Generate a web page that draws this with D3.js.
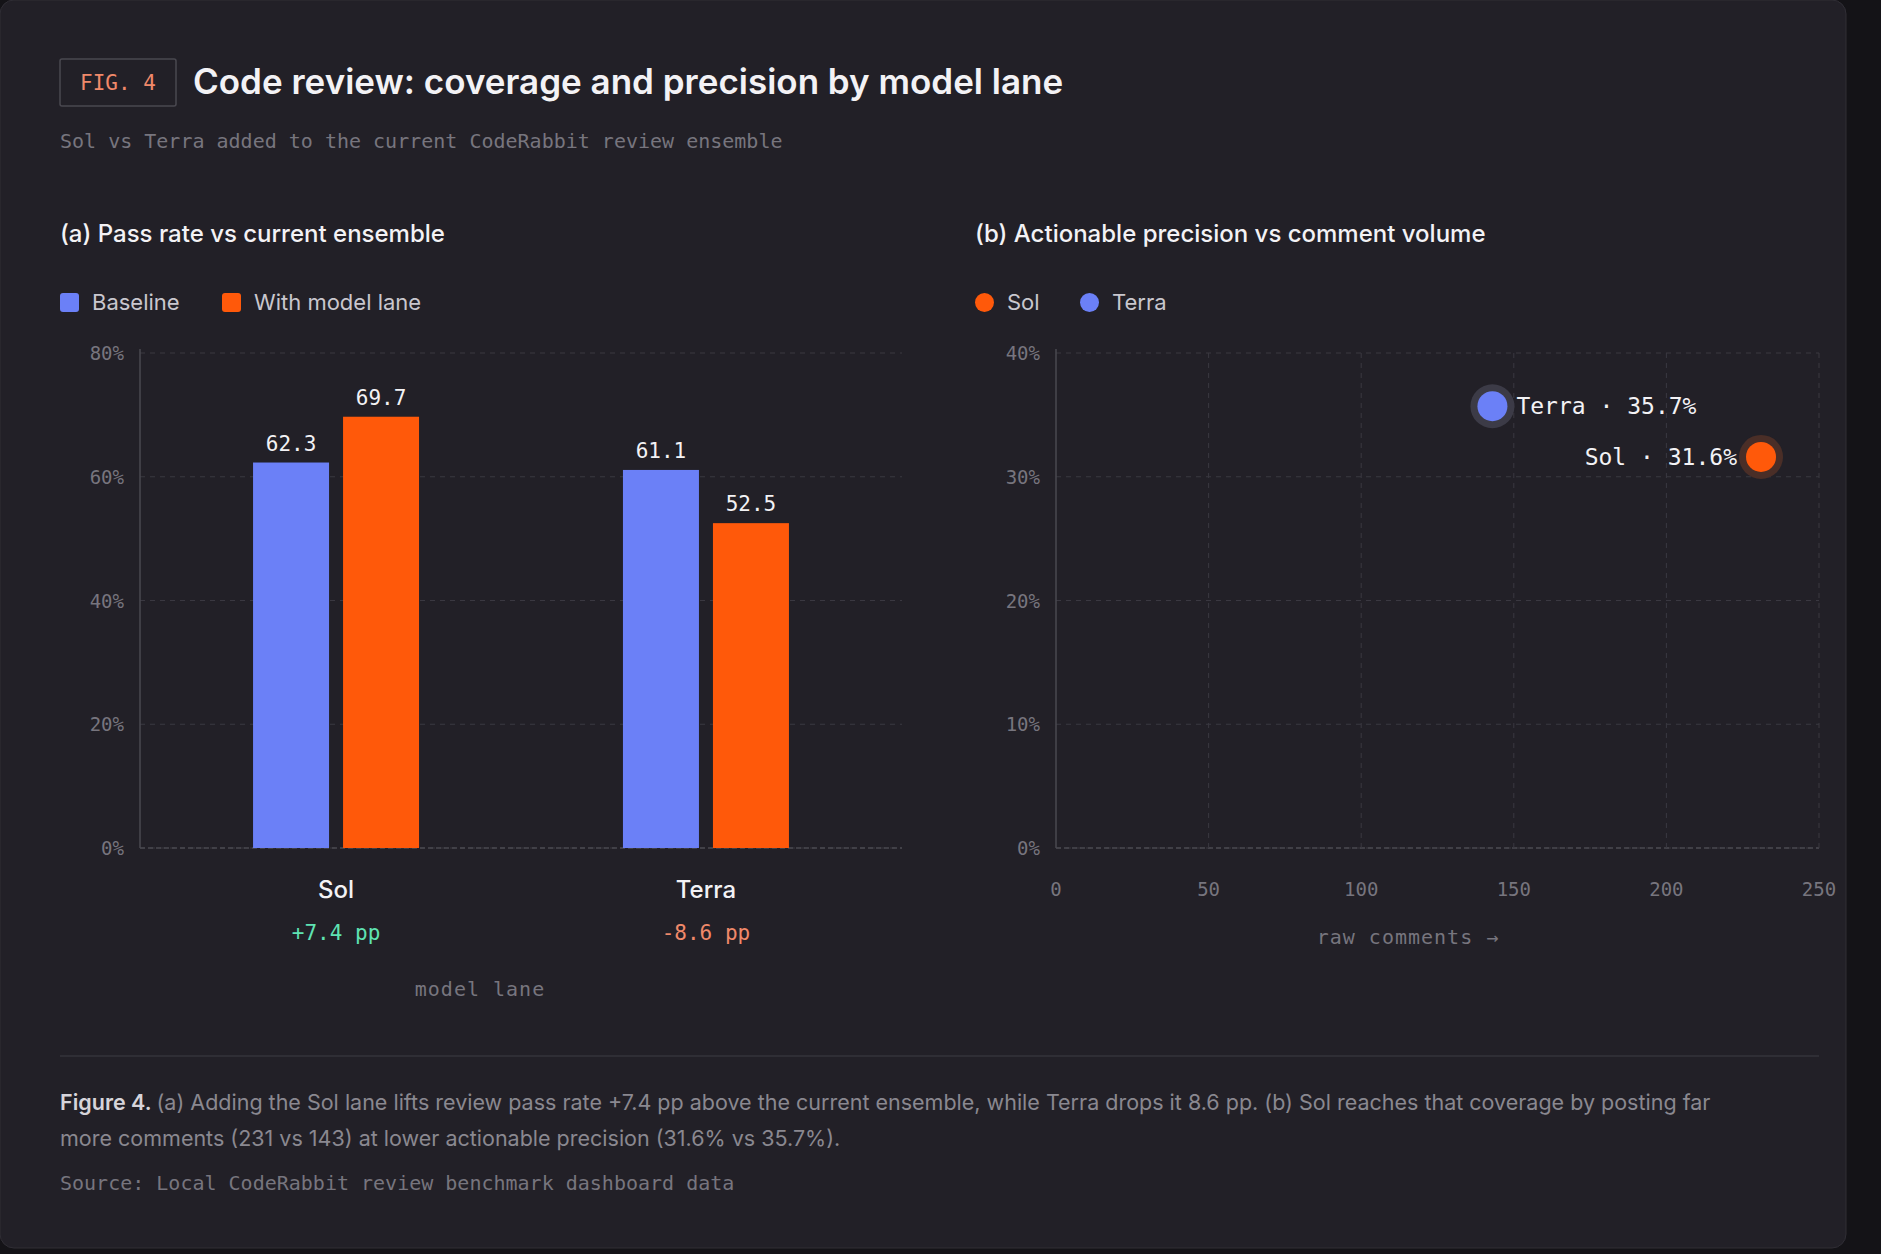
<!DOCTYPE html>
<html>
<head>
<meta charset="utf-8">
<script src="https://cdn.jsdelivr.net/npm/d3@7"></script>
<style>
  html, body { margin: 0; background: #141317; }
  svg { display: block; }
</style>
</head>
<body>
<div id="chart"></div>
<script>
// data
const lanes = ["Sol", "Terra"];
const baseline = [62.3, 61.1];
const withLane = [69.7, 52.5];
const deltas = ["+7.4 pp", "-8.6 pp"];
const barTicks = [0, 20, 40, 60, 80];

const points = ["Sol", "Terra"];
const comments = [231, 143];
const precision = [31.6, 35.7];
const xTicks = [0, 50, 100, 150, 200, 250];
const precTicks = [0, 10, 20, 30, 40];

const width = 1881, height = 1254;
const BLUE = "#6b80f7", ORANGE = "#ff590a";
const SANS = "Inter, 'Noto Sans', sans-serif";
const MONO = "'DejaVu Sans Mono', monospace";
const GRID = "#3a3841", TICK = "#77757e";

const svg = d3.select("#chart").append("svg")
  .attr("width", width).attr("height", height);

svg.append("rect").attr("x", 0).attr("y", 0).attr("width", 1846).attr("height", 1248)
  .attr("rx", 14).attr("fill", "#222027").attr("stroke", "#302e35");

// header
svg.append("rect").attr("x", 60).attr("y", 59).attr("width", 116).attr("height", 47)
  .attr("fill", "none").attr("stroke", "#4a4850").attr("stroke-width", 1.5).attr("rx", 2);
svg.append("text").attr("x", 118).attr("y", 90).attr("text-anchor", "middle")
  .attr("font-family", MONO).attr("font-size", 21).attr("fill", "#f0896a").text("FIG. 4");
svg.append("text").attr("x", 193).attr("y", 94).attr("font-family", SANS).attr("font-size", 35)
  .attr("font-weight", 600).attr("fill", "#f3f2f5").text("Code review: coverage and precision by model lane");
svg.append("text").attr("x", 60).attr("y", 148).attr("font-family", MONO).attr("font-size", 20)
  .attr("fill", "#77757e").text("Sol vs Terra added to the current CodeRabbit review ensemble");

// panel titles
svg.append("text").attr("x", 60).attr("y", 242).attr("font-family", SANS).attr("font-size", 24)
  .attr("font-weight", 500).attr("fill", "#f3f2f5").text("(a) Pass rate vs current ensemble");
svg.append("text").attr("x", 975).attr("y", 242).attr("font-family", SANS).attr("font-size", 24)
  .attr("font-weight", 500).attr("fill", "#f3f2f5").text("(b) Actionable precision vs comment volume");

// legends
function legendItem(x, color, label, round) {
  svg.append("rect").attr("x", x).attr("y", 293).attr("width", 19).attr("height", 19)
    .attr("rx", round ? 9.5 : 3).attr("fill", color);
  svg.append("text").attr("x", x + 32).attr("y", 310).attr("font-family", SANS).attr("font-size", 22)
    .attr("fill", "#c9c7ce").text(label);
}
legendItem(60, BLUE, "Baseline", false);
legendItem(222, ORANGE, "With model lane", false);
legendItem(975, ORANGE, "Sol", true);
legendItem(1080, BLUE, "Terra", true);

// panel a
const plotTop = 353, plotBottom = 848;
const ax0 = 140, ax1 = 902;
const xA = d3.scalePoint().domain(lanes).range([ax0, ax1]).padding(0.53);
const yA = d3.scaleLinear().domain([0, 80]).range([plotBottom, plotTop]);

function grid(x0, x1, ticks, fmt, yScale) {
  const g = svg.append("g");
  g.selectAll("line.g").data(ticks).enter().append("line")
    .attr("x1", x0).attr("x2", x1).attr("y1", d => yScale(d)).attr("y2", d => yScale(d))
    .attr("stroke", GRID).attr("stroke-dasharray", "5,5");
  g.selectAll("text").data(ticks).enter().append("text")
    .attr("x", x0 - 16).attr("y", d => yScale(d) + 7).attr("text-anchor", "end")
    .attr("font-family", MONO).attr("font-size", 19).attr("fill", TICK).text(fmt);
  g.append("line").attr("x1", x0).attr("x2", x0).attr("y1", plotTop - 4).attr("y2", plotBottom)
    .attr("stroke", "#4a4850").attr("stroke-width", 1.5);
  g.append("line").attr("x1", x0).attr("x2", x1).attr("y1", plotBottom).attr("y2", plotBottom)
    .attr("stroke", "#4a4850").attr("stroke-width", 1.5).attr("stroke-dasharray", "5,3");
}
grid(ax0, ax1, barTicks, d => d + "%", yA);

const bw = 76, gap = 14;
const series = [{vals: baseline, color: BLUE, off: -gap / 2 - bw}, {vals: withLane, color: ORANGE, off: gap / 2}];
series.forEach(s => {
  svg.selectAll(null).data(lanes).enter().append("rect")
    .attr("x", d => xA(d) + s.off).attr("y", (d, i) => yA(s.vals[i]))
    .attr("width", bw).attr("height", (d, i) => plotBottom - yA(s.vals[i]))
    .attr("fill", s.color);
  svg.selectAll(null).data(lanes).enter().append("text")
    .attr("x", d => xA(d) + s.off + bw / 2).attr("y", (d, i) => yA(s.vals[i]) - 12)
    .attr("text-anchor", "middle").attr("font-family", MONO).attr("font-size", 21)
    .attr("fill", "#f3f2f5").text((d, i) => s.vals[i].toFixed(1));
});
svg.selectAll(null).data(lanes).enter().append("text")
  .attr("x", d => xA(d)).attr("y", 898).attr("text-anchor", "middle")
  .attr("font-family", SANS).attr("font-size", 24).attr("font-weight", 500).attr("fill", "#f3f2f5").text(d => d);
svg.selectAll(null).data(lanes).enter().append("text")
  .attr("x", d => xA(d)).attr("y", 940).attr("text-anchor", "middle")
  .attr("font-family", MONO).attr("font-size", 21)
  .attr("fill", (d, i) => deltas[i][0] === "+" ? "#5fe3b3" : "#f0896a").text((d, i) => deltas[i]);
svg.append("text").attr("x", 480).attr("y", 996).attr("text-anchor", "middle")
  .attr("font-family", MONO).attr("font-size", 20).attr("fill", TICK).attr("letter-spacing", 1).text("model lane");

// panel b
const bx0 = 1056, bx1 = 1819;
const xB = d3.scaleLinear().domain([0, 250]).range([bx0, bx1]);
const yB = d3.scaleLinear().domain([0, 40]).range([plotBottom, plotTop]);
grid(bx0, bx1, precTicks, d => d + "%", yB);
svg.selectAll(null).data(xTicks.slice(1)).enter().append("line")
  .attr("x1", d => xB(d)).attr("x2", d => xB(d)).attr("y1", plotTop).attr("y2", plotBottom)
  .attr("stroke", GRID).attr("stroke-dasharray", "5,5");
svg.selectAll(null).data(xTicks).enter().append("text")
  .attr("x", d => xB(d)).attr("y", 896).attr("text-anchor", "middle")
  .attr("font-family", MONO).attr("font-size", 19).attr("fill", TICK).text(d => d);
svg.append("text").attr("x", 1408).attr("y", 944).attr("text-anchor", "middle")
  .attr("font-family", MONO).attr("font-size", 20).attr("fill", TICK).attr("letter-spacing", 1)
  .text("raw comments  →");

const pColors = [ORANGE, BLUE];
const halo = ["#4a2e27", "#3c3b47"];
points.forEach((p, i) => {
  const cx = xB(comments[i]), cy = yB(precision[i]);
  svg.append("circle").attr("cx", cx).attr("cy", cy).attr("r", 22).attr("fill", halo[i]);
  svg.append("circle").attr("cx", cx).attr("cy", cy).attr("r", 15).attr("fill", pColors[i]);
  const right = p === "Terra";
  svg.append("text").attr("x", right ? cx + 24 : cx - 24).attr("y", cy + 8)
    .attr("text-anchor", right ? "start" : "end").attr("font-family", MONO).attr("font-size", 23)
    .attr("fill", "#f3f2f5").text(p + " · " + precision[i].toFixed(1) + "%");
});

// footer
svg.append("line").attr("x1", 60).attr("x2", 1819).attr("y1", 1056).attr("y2", 1056)
  .attr("stroke", "#35333b").attr("stroke-width", 1.5);
const cap = svg.append("text").attr("x", 60).attr("y", 1110).attr("font-family", SANS).attr("font-size", 21.5).attr("fill", "#8a8890");
cap.append("tspan").attr("fill", "#d6d4da").attr("font-weight", 600).text("Figure 4. ");
cap.append("tspan").text("(a) Adding the Sol lane lifts review pass rate +7.4 pp above the current ensemble, while Terra drops it 8.6 pp. (b) Sol reaches that coverage by posting far");
svg.append("text").attr("x", 60).attr("y", 1146).attr("font-family", SANS).attr("font-size", 21.5).attr("fill", "#8a8890")
  .text("more comments (231 vs 143) at lower actionable precision (31.6% vs 35.7%).");
svg.append("text").attr("x", 60).attr("y", 1190).attr("font-family", MONO).attr("font-size", 20).attr("fill", TICK)
  .text("Source: Local CodeRabbit review benchmark dashboard data");
</script>
</body>
</html>
